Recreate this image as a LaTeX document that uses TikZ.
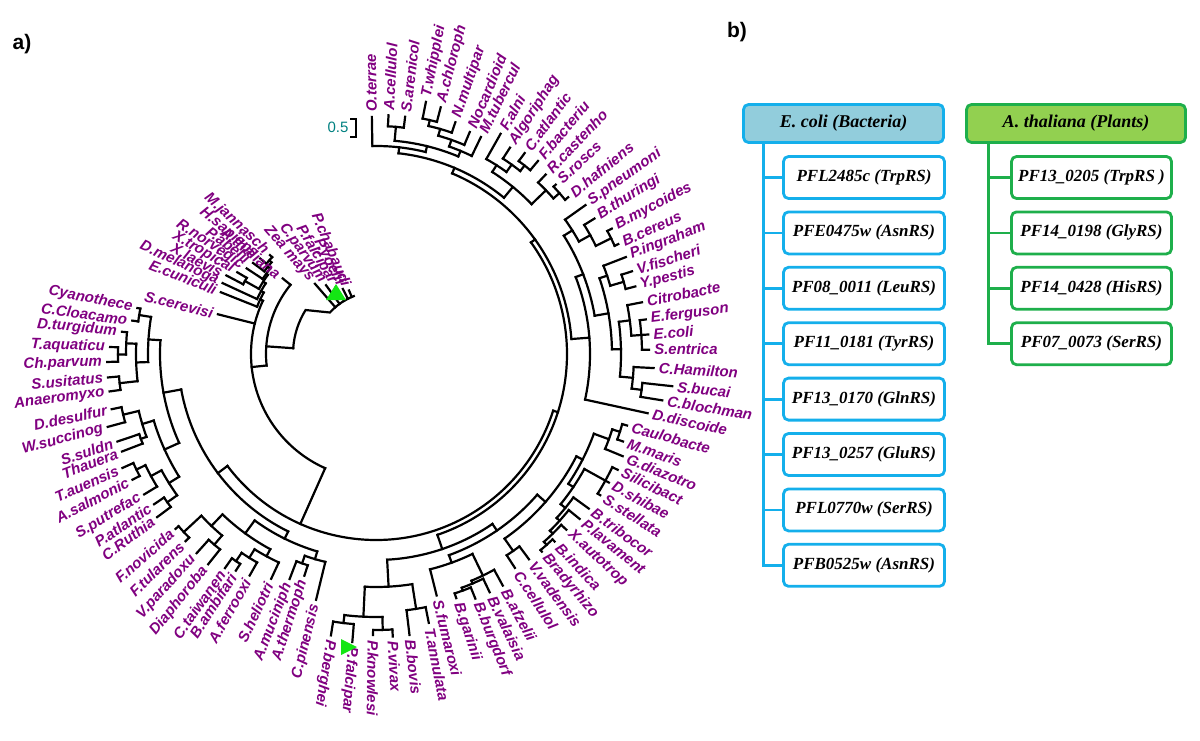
\documentclass[tikz,border=0pt]{standalone}
\usepackage{fontspec}
\setmainfont{Liberation Sans}
\newfontfamily\tnr{Liberation Serif}
\definecolor{tpurple}{RGB}{128,0,128}
\definecolor{bblue}{RGB}{20,175,235}
\definecolor{bfill}{RGB}{146,205,220}
\definecolor{ggreen}{RGB}{30,175,75}
\definecolor{gfill}{RGB}{146,208,80}
\definecolor{trigreen}{RGB}{20,230,20}
\definecolor{tealtxt}{RGB}{0,128,128}
\newcommand\A[1]{\csname ang#1\endcsname}
\newcommand\cl[5]{%
 \pgfmathsetmacro\tmpmid{(#3+#4)/2}%
 \expandafter\xdef\csname ang#1\endcsname{\tmpmid}%
 \draw[br] ({#3}:{#2}) arc[start angle={#3}, end angle={#4}, radius={#2}];%
 \draw[br] (\tmpmid:#5) -- (\tmpmid:#2);}
\newcommand\lfR[4]{\draw[br] (#1:#2) -- ({#1}:{#3-5});\node[lab,anchor=west,rotate={#1}] at (#1:#3) {#4};}
\newcommand\lfL[4]{\draw[br] (#1:#2) -- ({#1}:{#3-5});\node[lab,anchor=east,rotate={#1+180}] at (#1:#3) {#4};}
\begin{document}
\begin{tikzpicture}[x=1pt,y=1pt,
 br/.style={line width=2.2pt,line cap=rect},
 lab/.style={text=tpurple,inner sep=0pt,font=\fontsize{15}{16}\selectfont\bfseries\itshape},
 ehead/.style={draw=bblue,fill=bfill,line width=2.8pt,rounded corners=5pt,minimum width=200pt,minimum height=38pt,inner sep=0pt,font=\tnr\fontsize{18}{18}\selectfont\bfseries\itshape},
 ebox/.style={draw=bblue,fill=white,line width=2.8pt,rounded corners=5pt,minimum width=161pt,minimum height=42pt,inner sep=0pt,font=\tnr\fontsize{17}{17}\selectfont\bfseries\itshape},
 ghead/.style={ehead,draw=ggreen,fill=gfill,minimum width=219pt},
 gbox/.style={ebox,draw=ggreen,minimum width=160pt},
 eline/.style={draw=bblue,line width=2.8pt},
 gline/.style={draw=ggreen,line width=2.8pt},
 plabel/.style={font=\fontsize{21}{21}\selectfont\bfseries}]
\useasboundingbox (0,0) rectangle (1200,-741);
\node[plabel] (pa) at (22,-44) {a)};
\node[plabel] (pb) at (737,-32) {b)};
\node[text=tealtxt,font=\fontsize{15}{15}\selectfont] (scl) at (338,-127) {0.5};
\draw[line width=1.6pt] (350,-119) -- (356,-119) -- (356,-137) -- (350,-137);
\begin{scope}[shift={(376,-354)}]
% top actinobacteria
\cl{23}{228}{87}{83}{214}
\cl{45}{240}{78.8}{75.3}{234}
\cl{456}{234}{\A{45}}{71.1}{227}
\cl{4567}{227}{\A{456}}{67.1}{220}
\cl{48}{220}{\A{4567}}{64.2}{214}
\cl{28}{214}{\A{23}}{\A{48}}{208}
\cl{18}{208}{91}{\A{28}}{202}
\lfR{91}{208}{242}{O.terrae}
\lfR{87}{228}{244}{A.cellulol}
\lfR{83}{228}{244}{S.arenicol}
\lfR{78.8}{240}{262}{T.whipplei}
\lfR{75.3}{240}{260}{A.chloroph}
\lfR{71.1}{234}{250}{N.multipar}
\lfR{67.1}{227}{246}{Nocardioid}
\lfR{64.2}{220}{246}{M.tubercul}
% 9-15
\cl{1112}{240}{53.5}{50}{233}
\cl{1012}{233}{57}{\A{1112}}{224}
\cl{912}{224}{60.5}{\A{1012}}{216}
\cl{1415}{244}{43.3}{39.2}{236}
\cl{1315}{236}{46.6}{\A{1415}}{216}
\cl{915}{216}{\A{912}}{\A{1315}}{202}
\cl{115}{202}{\A{18}}{\A{915}}{196}
\lfR{60.5}{224}{258}{F.alni}
\lfR{57}{233}{251}{Algoriphag}
\lfR{53.5}{240}{255}{C.atlantic}
\lfR{50}{240}{257}{F.bacteriu}
\lfR{46.6}{236}{252}{R.castenho}
\lfR{43.3}{244}{252}{S.roscs}
\lfR{39.2}{244}{253}{D.hafniens}
% firmicutes
\cl{1819}{262}{28}{24.4}{245}
\cl{1719}{245}{31.8}{\A{1819}}{232}
\cl{1619}{232}{35.4}{\A{1719}}{222}
\lfR{35.4}{232}{262}{S.pneumoni}
\lfR{31.8}{245}{262}{B.thuringi}
\lfR{28}{262}{272}{B.mycoides}
\lfR{24.4}{262}{271}{B.cereus}
% gamma
\cl{2122}{258}{17.9}{14.6}{244}
\cl{2022}{244}{21.2}{\A{2122}}{236}
\cl{2426}{266}{7.3}{0.9}{256}
\cl{2326}{256}{11}{\A{2426}}{245}
\cl{2829}{268}{-6.2}{-9.2}{258}
\cl{2729}{258}{-2.9}{\A{2829}}{245}
\cl{2329}{245}{\A{2326}}{\A{2729}}{236}
\cl{2029}{236}{\A{2022}}{\A{2329}}{222}
\cl{1629}{222}{\A{1619}}{\A{2029}}{214}
\cl{1630}{214}{\A{1629}}{-12.3}{196}
\cl{130}{196}{\A{115}}{\A{1630}}{191}
\lfR{21.2}{244}{273}{P.ingraham}
\lfR{17.9}{258}{274}{V.fischeri}
\lfR{14.6}{258}{273}{Y.pestis}
\lfR{11}{256}{276}{Citrobacte}
\lfR{7.3}{266}{277}{E.ferguson}
\lfR{4.1}{266}{278}{E.coli}
\lfR{0.9}{266}{278}{S.entrica}
\lfR{-2.9}{258}{283}{C.Hamilton}
\lfR{-6.2}{268}{303}{S.bucai}
\lfR{-9.2}{268}{295}{C.blochman}
\lfR{-12.3}{214}{283}{D.discoide}
% alpha
\cl{3132}{256}{-15.9}{-19.5}{248}
\cl{3133}{248}{\A{3132}}{-22.5}{232}
\cl{3436}{262}{-25.6}{-32.2}{238}
\cl{4041}{256}{-46.4}{-50}{252}
\cl{3941}{252}{-42.7}{\A{4041}}{248}
\cl{3841}{248}{-39}{\A{3941}}{244}
\cl{3741}{244}{-36}{\A{3841}}{238}
\cl{3441}{238}{\A{3436}}{\A{3741}}{232}
\cl{3141}{232}{\A{3133}}{\A{3441}}{225}
\cl{4243}{240}{-53.3}{-57}{225}
\cl{3143}{225}{\A{3141}}{\A{4243}}{214}
\lfR{-15.9}{256}{266}{Caulobacte}
\lfR{-19.5}{256}{267}{M.maris}
\lfR{-22.5}{248}{272}{G.diazotro}
\lfR{-25.6}{262}{273}{Silicibact}
\lfR{-28.9}{262}{271}{D.shibae}
\lfR{-32.2}{262}{270}{S.stellata}
\lfR{-36}{244}{268}{B.tribocor}
\lfR{-39}{248}{267}{P.lavament}
\lfR{-42.7}{252}{264}{X.autotrop}
\lfR{-46.4}{256}{264}{B.indica}
\lfR{-50}{256}{263}{Bradyrhizo}
\lfR{-53.3}{240}{261}{V.vadensis}
\lfR{-57}{240}{260}{C.cellulol}
% borrelia
\cl{4647}{252}{-67.9}{-71.8}{249}
\cl{4547}{249}{-64.5}{\A{4647}}{246}
\cl{4447}{246}{-61.3}{\A{4547}}{222}
\cl{4448}{222}{\A{4447}}{-75.9}{214}
\cl{3148}{214}{\A{3143}}{\A{4448}}{206}
\lfR{-61.3}{246}{269}{B.afzelii}
\lfR{-64.5}{249}{269}{B.valaisia}
\lfR{-67.9}{252}{269}{B.burgdorf}
\lfR{-71.8}{252}{262}{B.garinii}
\lfR{-75.9}{222}{254}{S.fumaroxi}
% apicomplexa
\cl{4950}{258}{-78.9}{-83.2}{233}
\cl{5152}{276}{-86.6}{-90.6}{263}
\cl{5354}{271}{-94.7}{-99.1}{263}
\cl{5154}{263}{\A{5152}}{\A{5354}}{233}
\cl{4954}{233}{\A{4950}}{\A{5154}}{206}
\cl{3154}{206}{\A{3148}}{\A{4954}}{191}
\cl{154}{191}{\A{130}}{\A{3154}}{186}
\lfR{-78.9}{258}{279}{T.annulata}
\lfR{-83.2}{258}{288}{B.bovis}
\lfR{-86.6}{276}{288}{P.vivax}
\lfR{-90.6}{276}{286}{P.knowlesi}
\lfR{-94.7}{271}{294}{P.falcipar}
\lfR{-99.1}{271}{290}{P.berghei}
% lower left
\cl{5657}{222}{-107.9}{-111}{214}
\cl{5557}{214}{-103.7}{\A{5657}}{206}
\cl{6061}{250}{-122.9}{-125.2}{240}
\cl{5961}{240}{-119.7}{\A{6061}}{230}
\cl{5861}{230}{-115}{\A{5961}}{222}
\cl{6263}{250}{-128.6}{-132}{238}
\cl{6465}{262}{-135.5}{-138.9}{238}
\cl{6265}{238}{\A{6263}}{\A{6465}}{222}
\cl{5865}{222}{\A{5861}}{\A{6265}}{206}
\cl{5565}{206}{\A{5557}}{\A{5865}}{198}
\lfL{-103.7}{214}{258}{C.pinensis}
\lfL{-107.9}{222}{238}{A.thermoph}
\lfL{-111}{222}{246}{A.muciniph}
\lfL{-115}{230}{253}{S.heliotri}
\lfL{-119.7}{240}{260}{A.ferrooxi}
\lfL{-122.9}{250}{263}{B.ambifari}
\lfL{-125.2}{250}{267}{C.taiwanen}
\lfL{-128.6}{250}{274}{Diaphoroba}
\lfL{-132}{250}{273}{V.paradoxu}
\lfL{-135.5}{262}{272}{F.tularens}
\lfL{-138.9}{262}{271}{F.novicida}
% left
\cl{6667}{256}{-143.3}{-145.9}{244}
\cl{6970}{266}{-152.7}{-155.8}{256}
\cl{6870}{256}{-148.8}{\A{6970}}{244}
\cl{6670}{244}{\A{6667}}{\A{6870}}{232}
\cl{7172}{250}{-159}{-161.3}{244}
\cl{7374}{260}{-164.8}{-168.2}{244}
\cl{7174}{244}{\A{7172}}{\A{7374}}{232}
\cl{6674}{232}{\A{6670}}{\A{7174}}{216}
\cl{7576}{258}{-172}{-175}{240}
\cl{7778}{258}{-178.3}{-181.5}{250}
\cl{7779}{250}{\A{7778}}{-185}{240}
\cl{7579}{240}{\A{7576}}{\A{7779}}{228}
\cl{8081}{240}{-187.8}{-190.9}{228}
\cl{7581}{228}{\A{7579}}{\A{8081}}{216}
\cl{6681}{216}{\A{6674}}{\A{7581}}{198}
\cl{5581}{198}{\A{5565}}{\A{6681}}{186}
\lfL{-143.3}{256}{278}{C.Ruthia}
\lfL{-145.9}{256}{273}{P.atlantic}
\lfL{-148.8}{256}{276}{S.putrefac}
\lfL{-152.7}{266}{279}{A.salmonic}
\lfL{-155.8}{266}{283}{T.auensis}
\lfL{-159}{250}{277}{Thauera}
\lfL{-161.3}{250}{278}{S.suldn}
\lfL{-164.8}{260}{283}{W.succinog}
\lfL{-168.2}{260}{275}{D.desulfur}
\lfL{-172}{258}{274}{Anaeromyxo}
\lfL{-175}{258}{274}{S.usitatus}
\lfL{-178.3}{258}{274}{Ch.parvum}
\lfL{-181.5}{258}{271}{T.aquaticu}
\lfL{-185}{250}{260}{D.turgidum}
\lfL{-187.8}{240}{251}{C.Cloacamo}
\lfL{-190.9}{240}{248}{Cyanothece}
% prokaryote ring root
\draw[br] (\A{5581}:186) arc[start angle=\A{5581}, end angle=\A{154}, radius=186];
\draw[br] (-114:125) -- (-114:186);
% eukaryote cluster 1
\cl{hm}{142}{140.5}{137}{139}
\cl{pab}{139}{143.5}{\A{hm}}{136}
\cl{rn}{136}{146.5}{\A{pab}}{134}
\cl{xx}{150}{152.3}{149.5}{134}
\cl{xr}{134}{\A{xx}}{\A{rn}}{131}
\cl{dm}{131}{155.2}{\A{xr}}{128}
\cl{ec}{128}{158.3}{\A{dm}}{125}
\lfL{165.9}{125}{168}{S.cerevisi}
\lfL{158.3}{128}{172}{E.cuniculi}
\lfL{155.2}{131}{174}{D.melanoga}
\lfL{152.3}{150}{174}{X.laevis}
\lfL{149.5}{150}{166}{X.tropical}
\lfL{146.5}{136}{160}{R.norvegic}
\lfL{143.5}{139}{158}{P.abelii}
\lfL{140.5}{142}{155}{H.sapiens}
\lfL{137}{142}{150}{M.jannasch}
\draw[br] (246:125) arc[start angle=246, end angle=\A{ec}, radius=125];
\draw[br] (186:110) -- (186:125);
\draw[br] (141:110) arc[start angle=141, end angle=186, radius=110];
\lfL{141}{110}{125}{A.thaliana}
\draw[br] (176:83) -- (176:110);
% eukaryote cluster 2
\draw[br] (176:83) arc[start angle=176, end angle=148, radius=83] -- (138:62) arc[start angle=138, end angle=111, radius=62];
\lfL{113}{62}{74}{P.chabaudi}
\lfL{117}{62}{78}{P.yoelii}
\lfL{121}{62}{83}{P.falcipar}
\lfL{126}{62}{90}{C.parvum}
\lfL{131}{62}{98}{Zea mays}
\end{scope}
\fill[trigreen] (336,-284) -- (326,-300) -- (346,-300) -- cycle;
\fill[trigreen] (341,-639) -- (341,-655) -- (357,-647) -- cycle;
% panel b
\node[ehead] (hE) at (843.5,-123.5) {E. coli (Bacteria)};
\foreach \i/\t in {1/PFL2485c (TrpRS),2/PFE0475w (AsnRS),3/PF08\_0011 (LeuRS),4/PF11\_0181 (TyrRS),5/PF13\_0170 (GlnRS),6/PF13\_0257 (GluRS),7/PFL0770w (SerRS),8/PFB0525w (AsnRS)}
  \node[ebox] (bE\i) at (864,{-177.5-55.4*(\i-1)}) {\t};
\coordinate (vE) at ([xshift=21pt]hE.south west);
\draw[eline] (vE) |- (bE8.west);
\foreach \i in {1,...,7} \draw[eline] (vE |- bE\i.west) -- (bE\i.west);
\node[ghead] (hG) at (1076,-123.5) {A. thaliana (Plants)};
\foreach \i/\t in {1/PF13\_0205 (TrpRS ),2/PF14\_0198 (GlyRS),3/PF14\_0428 (HisRS),4/PF07\_0073 (SerRS)}
  \node[gbox] (bG\i) at (1091.5,{-177.5-55.4*(\i-1)}) {\t};
\coordinate (vG) at ([xshift=23pt]hG.south west);
\draw[gline] (vG) |- (bG4.west);
\foreach \i in {1,...,3} \draw[gline] (vG |- bG\i.west) -- (bG\i.west);
\end{tikzpicture}
\end{document}
